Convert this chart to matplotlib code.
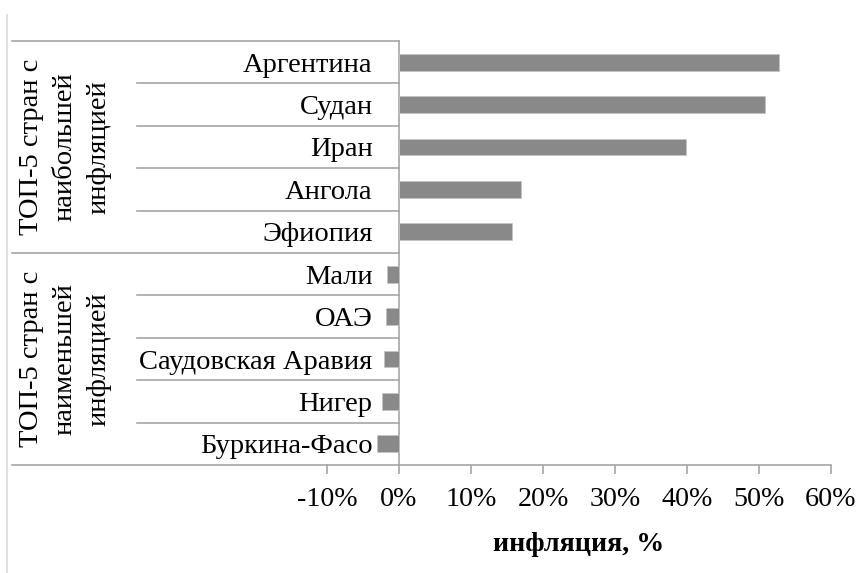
import matplotlib.pyplot as plt
from matplotlib.lines import Line2D
import matplotlib.transforms as mtransforms

# data
countries = ['Аргентина', 'Судан', 'Иран', 'Ангола', 'Эфиопия',
             'Мали', 'ОАЭ', 'Саудовская Аравия', 'Нигер', 'Буркина-Фасо']
inflation = [52.8, 50.9, 39.8, 17.0, 15.7, -1.6, -1.8, -2.1, -2.4, -3.1]
groups = ['ТОП-5 стран с\nнаибольшей\nинфляцией',
          'ТОП-5 стран с\nнаименьшей\nинфляцией']
group_size = [5, 5]
xticks = [-10, 0, 10, 20, 30, 40, 50, 60]
xtick_labels = ['-10%', '0%', '10%', '20%', '30%', '40%', '50%', '60%']

plt.rcParams['font.family'] = ['Liberation Serif', 'DejaVu Serif']
FS = 20.5
FS_TICK = 20.2
LINE = '#a6a6a6'
BAR = '#898989'

W, H = 861, 573
fig = plt.figure(figsize=(W / 100, H / 100), dpi=100)
# plot area in pixels: x 327..831, y 41..465 (from top)
ax = fig.add_axes([327 / W, (H - 465) / H, 504 / W, 424 / H])

pos = list(range(len(countries)))
ax.barh(pos, inflation, height=0.4, color=BAR, edgecolor='#c4c4c4', linewidth=0.6, zorder=3)

ax.set_xlim(-10, 60)
ax.set_ylim(len(countries) - 0.5, -0.5)

for s in ['top', 'right']:
    ax.spines[s].set_visible(False)
ax.spines['bottom'].set_color(LINE)
ax.spines['bottom'].set_linewidth(1.2)
ax.spines['left'].set_position(('data', 0))
ax.spines['left'].set_color(LINE)
ax.spines['left'].set_linewidth(1.2)

ax.set_xticks(xticks)
ax.set_xticklabels(xtick_labels, fontsize=FS_TICK)
ax.tick_params(axis='x', direction='out', length=6.5, width=1.2, color=LINE, pad=9)
ax.set_yticks(pos)
ax.set_yticklabels(countries, fontsize=FS)
ax.tick_params(axis='y', length=0, pad=19)

ax.set_xlabel('инфляция, %', fontsize=FS_TICK, fontweight='bold', labelpad=15)

# category table lines to the left of the zero axis
trans = mtransforms.blended_transform_factory(ax.transAxes, ax.transData)
x_outer = (12 - 327) / 504
x_inner = (137 - 327) / 504
x_zero = (399 - 327) / 504
ax.plot([x_outer, x_zero], [-0.5, -0.5], transform=trans, color=LINE, lw=1.2, clip_on=False)
ax.plot([x_outer, 0], [len(countries) - 0.5] * 2, transform=trans, color=LINE, lw=1.2, clip_on=False)
start = 0
for g, n in zip(groups, group_size):
    for k in range(start, start + n - 1):
        ax.plot([x_inner, x_zero], [k + 0.5, k + 0.5], transform=trans,
                color=LINE, lw=1.2, clip_on=False)
    end = start + n
    if end < len(countries):
        ax.plot([x_outer, x_zero], [end - 0.5, end - 0.5], transform=trans,
                color=LINE, lw=1.2, clip_on=False)
    ax.text((65 - 327) / 504, start + (n - 1) / 2, g, transform=trans, rotation=90,
            ha='center', va='center', multialignment='center', fontsize=FS,
            linespacing=1.45)
    start = end

# light chart border on the left
fig.add_artist(Line2D([7 / W, 7 / W], [0, 1 - 15 / H], transform=fig.transFigure,
                      color='#d9d9d9', lw=1.2))

fig.savefig('out.png', dpi=100, facecolor='white')
